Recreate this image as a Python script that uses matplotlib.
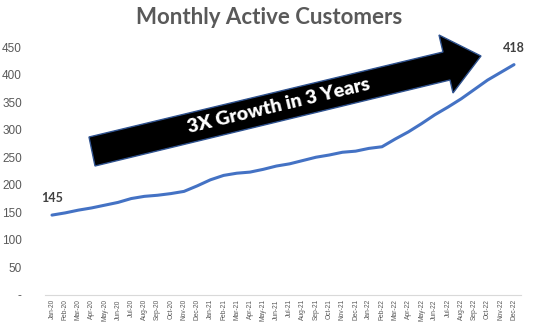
import matplotlib
matplotlib.use("Agg")
import matplotlib.pyplot as plt
from matplotlib.patches import Polygon

months = ["Jan", "Feb", "Mar", "Apr", "May", "Jun",
          "Jul", "Aug", "Sep", "Oct", "Nov", "Dec"]
years = ["20", "21", "22"]
labels = [f"{m}-{y}" for y in years for m in months]

customers = [145, 149, 154, 158, 163, 168, 175, 179, 181, 184, 188, 198,
             209, 217, 221, 223, 228, 234, 238, 244, 250, 254, 259, 261,
             266, 269, 283, 296, 311, 327, 341, 356, 373, 390, 404, 418]

yticks = [0, 50, 100, 150, 200, 250, 300, 350, 400, 450]
ytick_labels = ["-"] + [str(v) for v in yticks[1:]]

W, H = 538, 333
fig = plt.figure(figsize=(W / 100, H / 100), dpi=100)
ax = fig.add_axes([45.4 / W, 1 - 295 / H, (520.6 - 45.4) / W, (295 - 47) / H])

x = list(range(len(customers)))
ax.plot(x, customers, color="#4472C4", linewidth=2.2, solid_capstyle="round")

ax.set_xlim(-0.5, len(customers) - 0.5)
ax.set_ylim(0, 450)
ax.set_yticks(yticks)
ax.set_yticklabels(ytick_labels, fontsize=8.5, color="#595959", family="Liberation Sans")
ax.set_xticks(x)
ax.set_xticklabels(labels, rotation=90, fontsize=4.8, color="#595959", family="Liberation Sans")
ax.tick_params(axis="both", length=0)
ax.tick_params(axis="y", pad=17)
ax.tick_params(axis="x", pad=3)

for s in ["top", "right", "left"]:
    ax.spines[s].set_visible(False)
ax.spines["bottom"].set_color("#D9D9D9")
ax.spines["bottom"].set_linewidth(0.8)

# first / last data labels
ax.annotate(str(customers[0]), (x[0], customers[0]), xytext=(0, 8),
            textcoords="offset points", ha="center", va="bottom",
            fontsize=9, fontweight="bold", color="#404040", family="Lato")
ax.annotate(str(customers[-1]), (x[-1], customers[-1]), xytext=(0, 8),
            textcoords="offset points", ha="center", va="bottom",
            fontsize=9, fontweight="bold", color="#404040", family="Lato")

fig.text(0.5, 1 - 17 / H, "Monthly Active Customers", ha="center", va="center",
         fontsize=16, fontweight="bold", color="#595959", family="Lato")

# big block arrow (pixel coords -> figure fraction)
arrow_px = [(89, 137), (443, 52), (439, 35), (481, 56), (453, 93), (450, 80), (95, 166)]
arrow = Polygon([(px / W, 1 - py / H) for px, py in arrow_px], closed=True,
                transform=fig.transFigure, facecolor="black", edgecolor="#2F528F",
                linewidth=1.0, zorder=5)
fig.patches.append(arrow)
fig.text(279 / W, 1 - 106 / H, "3X Growth in 3 Years", ha="center", va="center",
         rotation=13.5, rotation_mode="anchor", fontsize=14, fontweight="heavy",
         color="white", family="Lato", zorder=6)

fig.savefig("out.png", dpi=100, facecolor="white")
